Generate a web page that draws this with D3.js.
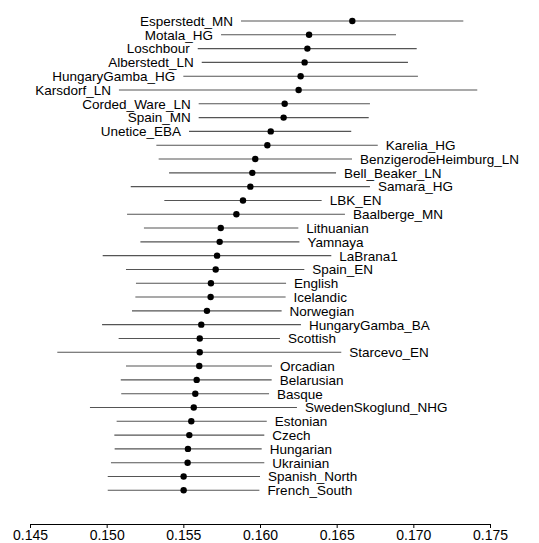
<!DOCTYPE html>
<html><head><meta charset="utf-8">
<script src="https://cdn.jsdelivr.net/npm/d3@7"></script>
<style>
html,body{margin:0;padding:0;background:#fff;}
svg{display:block;}
text{font-family:"Liberation Sans",Arial,sans-serif;fill:#000;}
</style></head>
<body><div id="chart"></div>
<script>
const populations = ["Esperstedt_MN","Motala_HG","Loschbour","Alberstedt_LN","HungaryGamba_HG","Karsdorf_LN","Corded_Ware_LN","Spain_MN","Unetice_EBA","Karelia_HG","BenzigerodeHeimburg_LN","Bell_Beaker_LN","Samara_HG","LBK_EN","Baalberge_MN","Lithuanian","Yamnaya","LaBrana1","Spain_EN","English","Icelandic","Norwegian","HungaryGamba_BA","Scottish","Starcevo_EN","Orcadian","Belarusian","Basque","SwedenSkoglund_NHG","Estonian","Czech","Hungarian","Ukrainian","Spanish_North","French_South"];
const f3 = [0.16602,0.16320,0.16309,0.16291,0.16265,0.16252,0.16161,0.16154,0.16070,0.16048,0.15969,0.15950,0.15937,0.15889,0.15846,0.15744,0.15737,0.15720,0.15711,0.15680,0.15678,0.15654,0.15617,0.15607,0.15607,0.15604,0.15587,0.15578,0.15568,0.15552,0.15539,0.15530,0.15528,0.15502,0.15502];
const lower = [0.15876,0.15746,0.15594,0.15620,0.15500,0.15080,0.15600,0.15600,0.15537,0.15324,0.15339,0.15407,0.15157,0.15376,0.15133,0.15243,0.15220,0.14974,0.15126,0.15191,0.15187,0.15165,0.14970,0.15078,0.14678,0.15126,0.15092,0.15095,0.14891,0.15065,0.15050,0.15052,0.15028,0.15007,0.15007];
const upper = [0.17326,0.16887,0.17022,0.16965,0.17030,0.17417,0.16717,0.16709,0.16595,0.16768,0.16600,0.16496,0.16717,0.16402,0.16554,0.16250,0.16257,0.16465,0.16289,0.16170,0.16167,0.16141,0.16267,0.16130,0.16530,0.16078,0.16076,0.16059,0.16241,0.16044,0.16028,0.16011,0.16028,0.16000,0.15996];
const labelSide = ["left","left","left","left","left","left","left","left","left","right","right","right","right","right","right","right","right","right","right","right","right","right","right","right","right","right","right","right","right","right","right","right","right","right","right"];
const xTicks = [0.145,0.150,0.155,0.160,0.165,0.170,0.175];

const W = 539, H = 543;
const svg = d3.select("#chart").append("svg").attr("width", W).attr("height", H);

const x = d3.scaleLinear().domain([0.145, 0.175]).range([30, 490]);
const y = d3.scalePoint().domain(populations).range([21, 490.3]);

const rows = populations.map((p, i) => ({p, v: f3[i], lo: lower[i], hi: upper[i], side: labelSide[i]}));

const g = svg.append("g");
g.selectAll("line.ci").data(rows).join("line")
  .attr("class","ci")
  .attr("x1", d => x(d.lo)).attr("x2", d => x(d.hi))
  .attr("y1", d => y(d.p)).attr("y2", d => y(d.p))
  .attr("stroke", "#555").attr("stroke-width", 1.1);

g.selectAll("circle").data(rows).join("circle")
  .attr("cx", d => x(d.v)).attr("cy", d => y(d.p)).attr("r", 3.2)
  .attr("fill", "#000");

g.selectAll("text.lab").data(rows).join("text")
  .attr("class","lab")
  .attr("x", d => d.side === "left" ? x(d.lo) - 8 : x(d.hi) + 8)
  .attr("y", d => y(d.p))
  .attr("dy", "0.36em")
  .attr("text-anchor", d => d.side === "left" ? "end" : "start")
  .attr("font-size", "13.5px")
  .text(d => d.p);

const axis = d3.axisBottom(x).tickValues(xTicks).tickFormat(d3.format(".3f")).tickSize(4).tickSizeOuter(0);
const ax = svg.append("g").attr("transform", "translate(0,524)").call(axis);
ax.select(".domain").attr("stroke", "#000");
ax.selectAll(".tick line").attr("stroke", "#000");
ax.selectAll(".tick text").attr("font-size", "14px").attr("font-family", "Liberation Sans, Arial, sans-serif").attr("y", 6).attr("dy", "0.71em");
</script>
</body></html>
